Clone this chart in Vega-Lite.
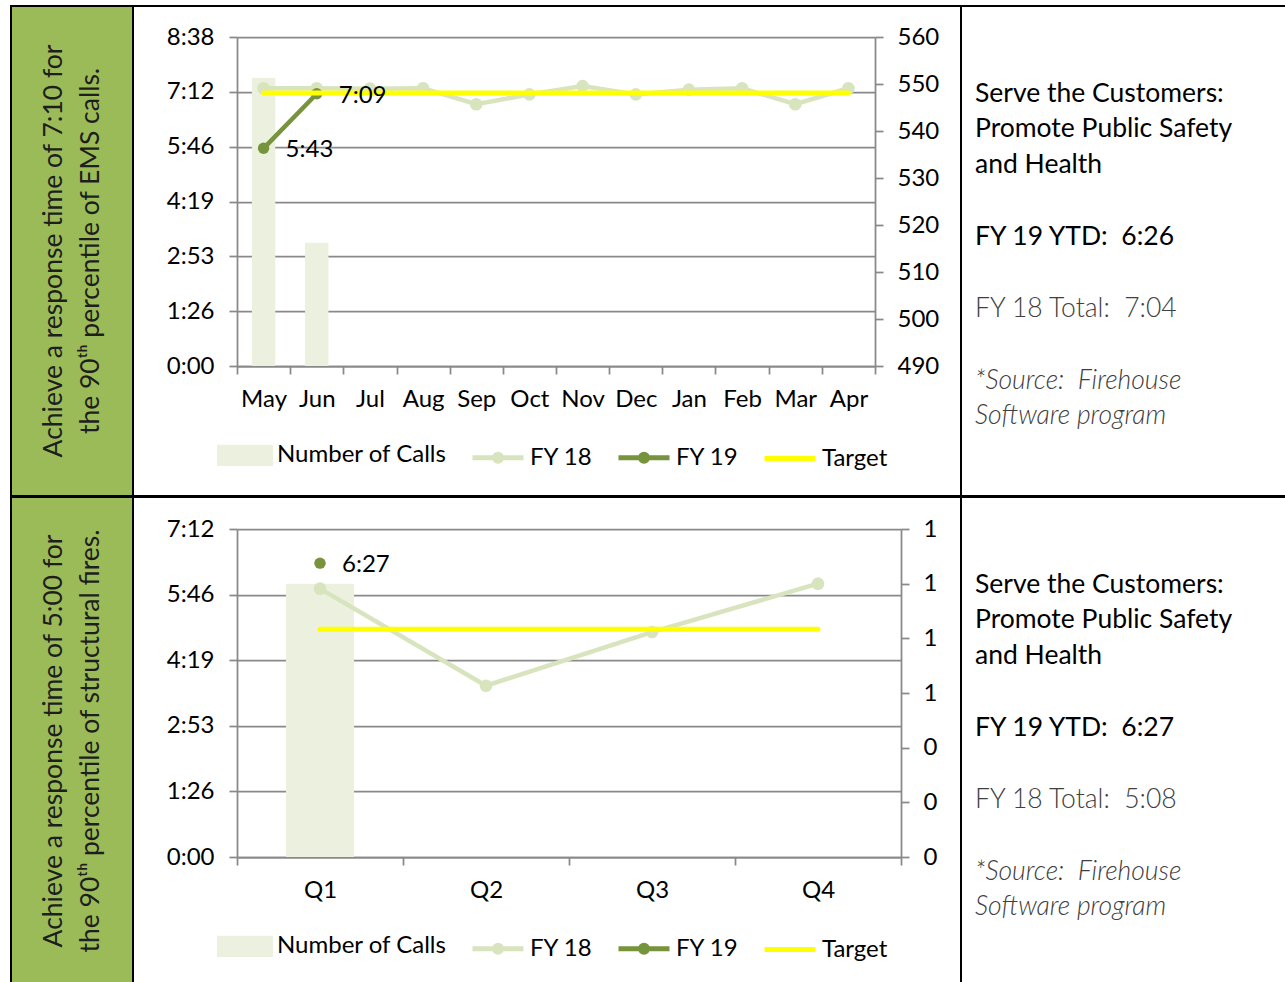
{
  "$schema": "https://vega.github.io/schema/vega-lite/v6.json",
  "padding": {"left": 10, "top": 5, "right": 0, "bottom": 0},
  "autosize": {"type": "pad"},
  "background": "white",
  "spacing": -2,
  "config": {
    "font": "Lato",
    "view": {"stroke": "black", "strokeWidth": 2},
    "axis": {
      "labelFont": "Lato", "labelFontSize": 24, "labelColor": "#000000", "labelFlush": false,
      "tickColor": "#898989", "tickWidth": 1.75, "tickSize": 8,
      "domainColor": "#898989", "domainWidth": 1.75,
      "gridColor": "#898989", "gridWidth": 1.75, "gridOpacity": 1
    },
    "legend": {"labelFont": "Lato", "labelFontSize": 24, "labelColor": "#000000", "labelLimit": 400},
    "text": {"font": "Lato", "fontSize": 24}
  },
  "datasets": {
    "ems": [
      {"month": "May", "series": "FY 18", "time": 437.6},
      {"month": "Jun", "series": "FY 18", "time": 437.6},
      {"month": "Jul", "series": "FY 18", "time": 437},
      {"month": "Aug", "series": "FY 18", "time": 437.6},
      {"month": "Sep", "series": "FY 18", "time": 412.4},
      {"month": "Oct", "series": "FY 18", "time": 428},
      {"month": "Nov", "series": "FY 18", "time": 441},
      {"month": "Dec", "series": "FY 18", "time": 428},
      {"month": "Jan", "series": "FY 18", "time": 435.4},
      {"month": "Feb", "series": "FY 18", "time": 437.6},
      {"month": "Mar", "series": "FY 18", "time": 412.4},
      {"month": "Apr", "series": "FY 18", "time": 437.6},
      {"month": "May", "series": "FY 19", "time": 343, "label": "5:43"},
      {"month": "Jun", "series": "FY 19", "time": 429, "label": "7:09"},
      {"month": "May", "series": "Target", "time": 430},
      {"month": "Jun", "series": "Target", "time": 430},
      {"month": "Jul", "series": "Target", "time": 430},
      {"month": "Aug", "series": "Target", "time": 430},
      {"month": "Sep", "series": "Target", "time": 430},
      {"month": "Oct", "series": "Target", "time": 430},
      {"month": "Nov", "series": "Target", "time": 430},
      {"month": "Dec", "series": "Target", "time": 430},
      {"month": "Jan", "series": "Target", "time": 430},
      {"month": "Feb", "series": "Target", "time": 430},
      {"month": "Mar", "series": "Target", "time": 430},
      {"month": "Apr", "series": "Target", "time": 430}
    ],
    "emsCalls": [
      {"month": "May", "series": "Number of Calls", "calls": 551.3},
      {"month": "Jun", "series": "Number of Calls", "calls": 516.2}
    ],
    "fires": [
      {"quarter": "Q1", "series": "FY 18", "time": 353.4},
      {"quarter": "Q2", "series": "FY 18", "time": 225.6},
      {"quarter": "Q3", "series": "FY 18", "time": 296.3},
      {"quarter": "Q4", "series": "FY 18", "time": 360},
      {"quarter": "Q1", "series": "FY 19", "time": 387, "label": "6:27"},
      {"quarter": "Q1", "series": "Target", "time": 300},
      {"quarter": "Q2", "series": "Target", "time": 300},
      {"quarter": "Q3", "series": "Target", "time": 300},
      {"quarter": "Q4", "series": "Target", "time": 300}
    ],
    "fireCalls": [
      {"quarter": "Q1", "series": "Number of Calls", "calls": 1}
    ]
  },
  "resolve": {"scale": {"color": "independent"}, "legend": {"color": "independent"}},
  "vconcat": [
    {
      "spacing": 0,
      "bounds": "flush",
      "resolve": {"scale": {"color": "independent"}, "legend": {"color": "independent"}},
      "hconcat": [
        {
          "width": 122, "height": 490,
          "view": {"fill": "#9BBB59", "stroke": "black", "strokeWidth": 2},
          "data": {"values": [{"goal": "Achieve a response time of 7:10 for\nthe 90ᵗʰ percentile of EMS calls."}]},
          "mark": {"type": "text", "angle": 270, "lineBreak": "\n", "lineHeight": 37, "align": "center", "baseline": "middle", "dy": -18.5, "font": "Lato", "fontSize": 26.5, "color": "#1e1e1e"},
          "encoding": {"text": {"field": "goal", "type": "nominal"}}
        },
        {
          "width": 828, "height": 490,
          "view": {"fill": "white", "stroke": "black", "strokeWidth": 2},
          "resolve": {"scale": {"y": "independent"}, "axis": {"y": "independent"}},
          "layer": [
            {
              "data": {"name": "emsCalls"},
              "mark": {"type": "bar", "width": {"band": 0.44}},
              "encoding": {
                "x": {"field": "month", "type": "ordinal", "title": null,
                  "scale": {"domain": ["May","Jun","Jul","Aug","Sep","Oct","Nov","Dec","Jan","Feb","Mar","Apr"], "range": [104, 742], "paddingInner": 0, "paddingOuter": 0},
                  "axis": {"orient": "bottom", "offset": -130, "tickBand": "extent", "domain": true, "grid": false, "labelAngle": 0, "labelPadding": 13, "title": null}},
                "y": {"field": "calls", "type": "quantitative", "title": null,
                  "scale": {"domain": [490, 560], "range": [360, 31], "zero": false, "nice": false},
                  "axis": {"orient": "right", "offset": -86, "values": [490, 500, 510, 520, 530, 540, 550, 560], "format": "d", "grid": false, "domain": true, "labelPadding": 14, "title": null}},
                "y2": {"datum": 490},
                "color": {"field": "series", "type": "nominal",
                  "scale": {"domain": ["Number of Calls", "FY 18", "FY 19", "Target"], "range": ["#EBF1DE", "#D7E4BD", "#77933C", "#FFFF00"]},
                  "legend": {
                    "title": null, "orient": "none", "legendX": 84, "legendY": 421, "direction": "horizontal", "columns": 4, "padding": 0,
                    "symbolSize": 2601, "symbolStrokeWidth": 5, "labelOffset": 4, "columnPadding": 15, "labelLimit": 400,
                    "encoding": {"symbols": {
                      "shape": {"value": {"expr": "datum.value === 'Number of Calls' ? 'M-1,-0.32H1V0.32H-1Z' : datum.value === 'Target' ? 'M-1,0H1' : 'M-1,0H1M0.14,0A0.14,0.14 0 1 1 -0.14,0A0.14,0.14 0 1 1 0.14,0Z'"}},
                      "fill": {"value": {"expr": "datum.value === 'Number of Calls' ? '#EBF1DE' : datum.value === 'FY 18' ? '#D7E4BD' : datum.value === 'FY 19' ? '#77933C' : 'transparent'"}},
                      "stroke": {"value": {"expr": "datum.value === 'Number of Calls' ? 'transparent' : datum.value === 'FY 18' ? '#D7E4BD' : datum.value === 'FY 19' ? '#77933C' : '#FFFF00'"}},
                      "opacity": {"value": 1}
                    }}
                  }}
              }
            },
            {
              "data": {"name": "ems"},
              "encoding": {
                "x": {"field": "month", "type": "ordinal", "title": null,
                  "scale": {"domain": ["May","Jun","Jul","Aug","Sep","Oct","Nov","Dec","Jan","Feb","Mar","Apr"], "range": [104, 742], "paddingInner": 0, "paddingOuter": 0},
                  "axis": {"orient": "bottom", "offset": -130, "tickBand": "extent", "domain": true, "grid": false, "labelAngle": 0, "labelPadding": 13, "title": null}},
                "y": {"field": "time", "type": "quantitative", "title": null,
                  "scale": {"domain": [0, 518.4], "range": [360, 31], "zero": false, "nice": false},
                  "axis": {"orient": "left", "offset": -104, "values": [0, 86.4, 172.8, 259.2, 345.6, 432, 518.4], "grid": true, "domain": true, "labelPadding": 15, "title": null,
                    "labelExpr": "floor(datum.value/60) + ':' + (round(datum.value % 60) < 10 ? '0' : '') + round(datum.value % 60)"}}
              },
              "layer": [
                {"transform": [{"filter": "datum.series === 'FY 18'"}],
                 "mark": {"type": "line", "strokeWidth": 4.5, "point": {"filled": true, "size": 160}},
                 "encoding": {"color": {"field": "series", "type": "nominal", "scale": {"domain": ["Number of Calls", "FY 18", "FY 19", "Target"], "range": ["#EBF1DE", "#D7E4BD", "#77933C", "#FFFF00"]}}}},
                {"transform": [{"filter": "datum.series === 'FY 19'"}],
                 "mark": {"type": "line", "strokeWidth": 4.5, "point": {"filled": true, "size": 130}},
                 "encoding": {"color": {"field": "series", "type": "nominal", "scale": {"domain": ["Number of Calls", "FY 18", "FY 19", "Target"], "range": ["#EBF1DE", "#D7E4BD", "#77933C", "#FFFF00"]}}}},
                {"transform": [{"filter": "datum.series === 'Target'"}],
                 "mark": {"type": "line", "strokeWidth": 5, "strokeCap": "round"},
                 "encoding": {"color": {"field": "series", "type": "nominal", "scale": {"domain": ["Number of Calls", "FY 18", "FY 19", "Target"], "range": ["#EBF1DE", "#D7E4BD", "#77933C", "#FFFF00"]}}}},
                {"transform": [{"filter": "datum.label != null"}],
                 "mark": {"type": "text", "align": "left", "baseline": "middle", "dx": 22, "dy": 2, "fontSize": 24, "font": "Lato", "color": "#000000"},
                 "encoding": {"text": {"field": "label", "type": "nominal"}}}
              ]
            }
          ]
        },
        {
          "width": 326, "height": 490,
          "view": {"fill": "white", "stroke": "black", "strokeWidth": 2},
          "data": {"values": [
            {"part": "goal", "text": "Serve the Customers:\nPromote Public Safety\nand Health"},
            {"part": "ytd", "text": "FY 19 YTD: \u00a06:26"},
            {"part": "total", "text": "FY 18 Total: \u00a07:04"},
            {"part": "source", "text": "*Source: \u00a0Firehouse\nSoftware program"}
          ]},
          "layer": [
            {"transform": [{"filter": "datum.part === 'goal'"}],
             "mark": {"type": "text", "align": "left", "baseline": "alphabetic", "lineBreak": "\n", "lineHeight": 35.8, "dx": -149, "dy": -149.5, "fontSize": 26.5, "font": "Lato", "color": "#000000"},
             "encoding": {"text": {"field": "text", "type": "nominal"}}},
            {"transform": [{"filter": "datum.part === 'ytd'"}],
             "mark": {"type": "text", "align": "left", "baseline": "alphabetic", "dx": -149, "dy": -6.5, "fontSize": 26.5, "font": "Lato", "color": "#000000"},
             "encoding": {"text": {"field": "text", "type": "nominal"}}},
            {"transform": [{"filter": "datum.part === 'total'"}],
             "mark": {"type": "text", "align": "left", "baseline": "alphabetic", "dx": -149, "dy": 65.5, "fontSize": 26.5, "font": "Lato", "fontWeight": 300, "color": "#404040"},
             "encoding": {"text": {"field": "text", "type": "nominal"}}},
            {"transform": [{"filter": "datum.part === 'source'"}],
             "mark": {"type": "text", "align": "left", "baseline": "alphabetic", "lineBreak": "\n", "lineHeight": 35.8, "dx": -149, "dy": 137.5, "fontSize": 26.5, "font": "Lato", "fontWeight": 300, "fontStyle": "italic", "color": "#404040"},
             "encoding": {"text": {"field": "text", "type": "nominal"}}}
          ]
        }
      ]
    },
    {
      "spacing": 0,
      "bounds": "flush",
      "resolve": {"scale": {"color": "independent"}, "legend": {"color": "independent"}},
      "hconcat": [
        {
          "width": 122, "height": 488,
          "view": {"fill": "#9BBB59", "stroke": "black", "strokeWidth": 2},
          "data": {"values": [{"goal": "Achieve a response time of 5:00 for\nthe 90ᵗʰ percentile of structural fires."}]},
          "mark": {"type": "text", "angle": 270, "lineBreak": "\n", "lineHeight": 37, "align": "center", "baseline": "middle", "dy": -18.5, "font": "Lato", "fontSize": 26.5, "color": "#1e1e1e"},
          "encoding": {"text": {"field": "goal", "type": "nominal"}}
        },
        {
          "width": 828, "height": 488,
          "view": {"fill": "white", "stroke": "black", "strokeWidth": 2},
          "resolve": {"scale": {"y": "independent"}, "axis": {"y": "independent"}},
          "layer": [
            {
              "data": {"name": "fireCalls"},
              "mark": {"type": "bar", "width": {"band": 0.41}},
              "encoding": {
                "x": {"field": "quarter", "type": "ordinal", "title": null,
                  "scale": {"domain": ["Q1", "Q2", "Q3", "Q4"], "range": [104, 768], "paddingInner": 0, "paddingOuter": 0},
                  "axis": {"orient": "bottom", "offset": -128, "tickBand": "extent", "domain": true, "grid": false, "labelAngle": 0, "labelPadding": 13, "title": null}},
                "y": {"field": "calls", "type": "quantitative", "title": null,
                  "scale": {"domain": [0, 1.2], "range": [360, 32], "zero": false, "nice": false},
                  "axis": {"orient": "right", "offset": -60, "values": [0, 0.2, 0.4, 0.6, 0.8, 1, 1.2], "format": ".0f", "grid": false, "domain": true, "labelPadding": 14, "title": null}},
                "y2": {"datum": 0},
                "color": {"field": "series", "type": "nominal",
                  "scale": {"domain": ["Number of Calls", "FY 18", "FY 19", "Target"], "range": ["#EBF1DE", "#D7E4BD", "#77933C", "#FFFF00"]},
                  "legend": {
                    "title": null, "orient": "none", "legendX": 84, "legendY": 421, "direction": "horizontal", "columns": 4, "padding": 0,
                    "symbolSize": 2601, "symbolStrokeWidth": 5, "labelOffset": 4, "columnPadding": 15, "labelLimit": 400,
                    "encoding": {"symbols": {
                      "shape": {"value": {"expr": "datum.value === 'Number of Calls' ? 'M-1,-0.32H1V0.32H-1Z' : datum.value === 'Target' ? 'M-1,0H1' : 'M-1,0H1M0.14,0A0.14,0.14 0 1 1 -0.14,0A0.14,0.14 0 1 1 0.14,0Z'"}},
                      "fill": {"value": {"expr": "datum.value === 'Number of Calls' ? '#EBF1DE' : datum.value === 'FY 18' ? '#D7E4BD' : datum.value === 'FY 19' ? '#77933C' : 'transparent'"}},
                      "stroke": {"value": {"expr": "datum.value === 'Number of Calls' ? 'transparent' : datum.value === 'FY 18' ? '#D7E4BD' : datum.value === 'FY 19' ? '#77933C' : '#FFFF00'"}},
                      "opacity": {"value": 1}
                    }}
                  }}
              }
            },
            {
              "data": {"name": "fires"},
              "encoding": {
                "x": {"field": "quarter", "type": "ordinal", "title": null,
                  "scale": {"domain": ["Q1", "Q2", "Q3", "Q4"], "range": [104, 768], "paddingInner": 0, "paddingOuter": 0},
                  "axis": {"orient": "bottom", "offset": -128, "tickBand": "extent", "domain": true, "grid": false, "labelAngle": 0, "labelPadding": 13, "title": null}},
                "y": {"field": "time", "type": "quantitative", "title": null,
                  "scale": {"domain": [0, 432], "range": [360, 32], "zero": false, "nice": false},
                  "axis": {"orient": "left", "offset": -104, "values": [0, 86.4, 172.8, 259.2, 345.6, 432], "grid": true, "domain": true, "labelPadding": 15, "title": null,
                    "labelExpr": "floor(datum.value/60) + ':' + (round(datum.value % 60) < 10 ? '0' : '') + round(datum.value % 60)"}}
              },
              "layer": [
                {"transform": [{"filter": "datum.series === 'FY 18'"}],
                 "mark": {"type": "line", "strokeWidth": 4.5, "point": {"filled": true, "size": 160}},
                 "encoding": {"color": {"field": "series", "type": "nominal", "scale": {"domain": ["Number of Calls", "FY 18", "FY 19", "Target"], "range": ["#EBF1DE", "#D7E4BD", "#77933C", "#FFFF00"]}}}},
                {"transform": [{"filter": "datum.series === 'FY 19'"}],
                 "mark": {"type": "line", "strokeWidth": 4.5, "point": {"filled": true, "size": 130}},
                 "encoding": {"color": {"field": "series", "type": "nominal", "scale": {"domain": ["Number of Calls", "FY 18", "FY 19", "Target"], "range": ["#EBF1DE", "#D7E4BD", "#77933C", "#FFFF00"]}}}},
                {"transform": [{"filter": "datum.series === 'Target'"}],
                 "mark": {"type": "line", "strokeWidth": 5, "strokeCap": "round"},
                 "encoding": {"color": {"field": "series", "type": "nominal", "scale": {"domain": ["Number of Calls", "FY 18", "FY 19", "Target"], "range": ["#EBF1DE", "#D7E4BD", "#77933C", "#FFFF00"]}}}},
                {"transform": [{"filter": "datum.label != null"}],
                 "mark": {"type": "text", "align": "left", "baseline": "middle", "dx": 22, "dy": 2, "fontSize": 24, "font": "Lato", "color": "#000000"},
                 "encoding": {"text": {"field": "label", "type": "nominal"}}}
              ]
            }
          ]
        },
        {
          "width": 326, "height": 488,
          "view": {"fill": "white", "stroke": "black", "strokeWidth": 2},
          "data": {"values": [
            {"part": "goal", "text": "Serve the Customers:\nPromote Public Safety\nand Health"},
            {"part": "ytd", "text": "FY 19 YTD: \u00a06:27"},
            {"part": "total", "text": "FY 18 Total: \u00a05:08"},
            {"part": "source", "text": "*Source: \u00a0Firehouse\nSoftware program"}
          ]},
          "layer": [
            {"transform": [{"filter": "datum.part === 'goal'"}],
             "mark": {"type": "text", "align": "left", "baseline": "alphabetic", "lineBreak": "\n", "lineHeight": 35.8, "dx": -149, "dy": -148.5, "fontSize": 26.5, "font": "Lato", "color": "#000000"},
             "encoding": {"text": {"field": "text", "type": "nominal"}}},
            {"transform": [{"filter": "datum.part === 'ytd'"}],
             "mark": {"type": "text", "align": "left", "baseline": "alphabetic", "dx": -149, "dy": -5.5, "fontSize": 26.5, "font": "Lato", "color": "#000000"},
             "encoding": {"text": {"field": "text", "type": "nominal"}}},
            {"transform": [{"filter": "datum.part === 'total'"}],
             "mark": {"type": "text", "align": "left", "baseline": "alphabetic", "dx": -149, "dy": 66.5, "fontSize": 26.5, "font": "Lato", "fontWeight": 300, "color": "#404040"},
             "encoding": {"text": {"field": "text", "type": "nominal"}}},
            {"transform": [{"filter": "datum.part === 'source'"}],
             "mark": {"type": "text", "align": "left", "baseline": "alphabetic", "lineBreak": "\n", "lineHeight": 35.8, "dx": -149, "dy": 138.5, "fontSize": 26.5, "font": "Lato", "fontWeight": 300, "fontStyle": "italic", "color": "#404040"},
             "encoding": {"text": {"field": "text", "type": "nominal"}}}
          ]
        }
      ]
    }
  ]
}
